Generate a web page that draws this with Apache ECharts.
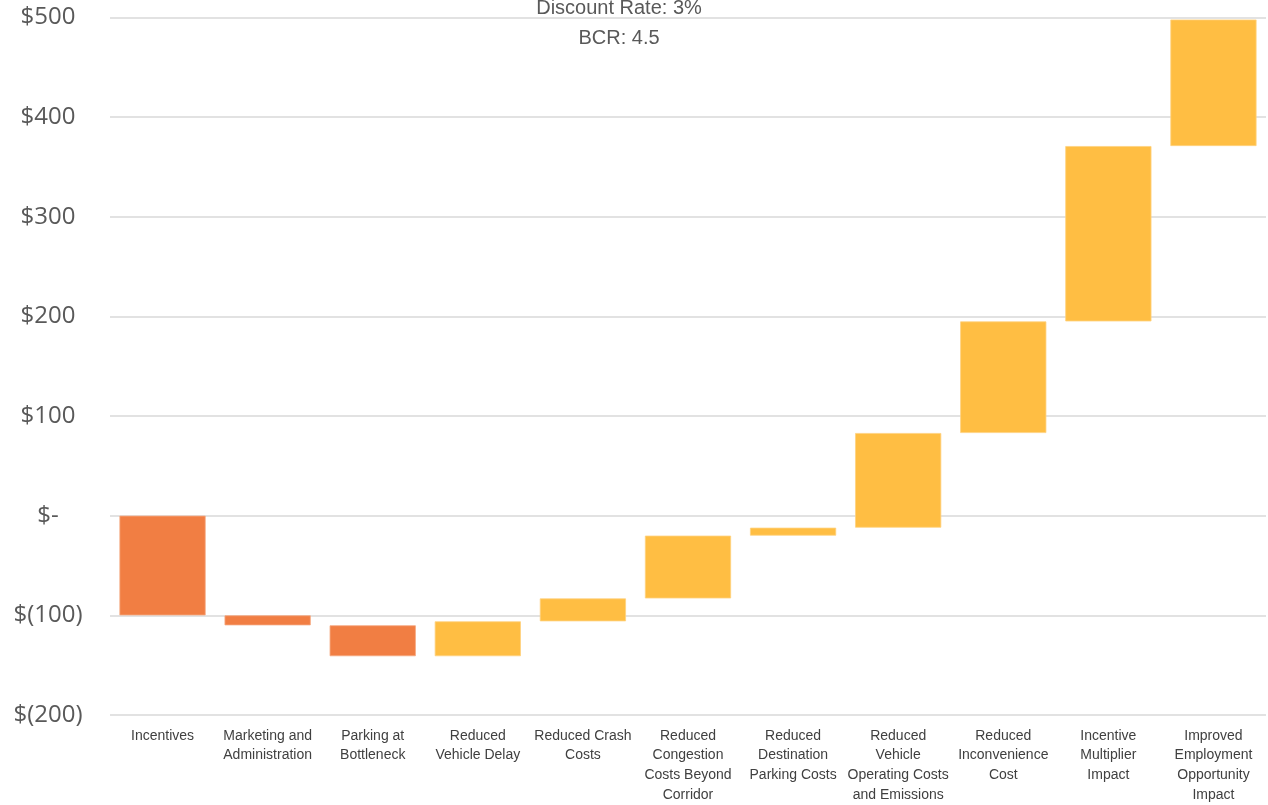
<!DOCTYPE html>
<html>
<head>
<meta charset="utf-8">
<script src="https://cdn.jsdelivr.net/npm/echarts@6/dist/echarts.min.js"></script>
<style>
  html, body { margin: 0; padding: 0; background: #ffffff; }
  #chart { width: 1268px; height: 805px; }
</style>
</head>
<body>
<div id="chart"></div>
<script>
// Benefit-cost waterfall, values in $ (millions)
const categories = [
  'Incentives',
  'Marketing and\nAdministration',
  'Parking at\nBottleneck',
  'Reduced\nVehicle Delay',
  'Reduced Crash\nCosts',
  'Reduced\nCongestion\nCosts Beyond\nCorridor',
  'Reduced\nDestination\nParking Costs',
  'Reduced\nVehicle\nOperating Costs\nand Emissions',
  'Reduced\nInconvenience\nCost',
  'Incentive\nMultiplier\nImpact',
  'Improved\nEmployment\nOpportunity\nImpact'
];
// change contributed by each item (negative = cost, positive = benefit)
const changes = [-100, -10, -31, 35, 23, 63, 8, 95, 112, 176, 127];
const yTicks = { min: -200, max: 500, interval: 100 };
const subtitleLines = ['Discount Rate: 3%', 'BCR: 4.5'];

const COST_COLOR = '#F17E43';
const BENEFIT_COLOR = '#FFBE43';

// running total before each item = invisible base of each floating bar
const bases = [];
let running = 0;
changes.forEach(function (c) { bases.push(running); running += c; });

const chart = echarts.init(document.getElementById('chart'), null, { renderer: 'canvas' });

chart.setOption({
  animation: false,
  backgroundColor: '#ffffff',
  title: {
    text: subtitleLines.join('\n'),
    left: 614,
    top: -12,
    textAlign: 'center',
    textStyle: {
      fontFamily: 'Liberation Sans, Arial, sans-serif',
      fontSize: 20,
      fontWeight: 'normal',
      color: '#595959',
      lineHeight: 30
    }
  },
  grid: { left: 110, right: 2, top: 17.5, bottom: 90, containLabel: false },
  xAxis: {
    type: 'category',
    data: categories,
    axisLine: { show: false },
    axisTick: { show: false },
    axisLabel: {
      interval: 0,
      margin: 11,
      fontFamily: "'Liberation Sans Narrow', 'Liberation Sans', sans-serif",
      fontSize: 14,
      lineHeight: 19.7,
      color: '#404040',
      align: 'center'
    }
  },
  yAxis: {
    type: 'value',
    min: yTicks.min,
    max: yTicks.max,
    interval: yTicks.interval,
    axisLine: { show: false },
    axisTick: { show: false },
    splitLine: { lineStyle: { color: '#d9d9d9', width: 1.5 } },
    axisLabel: {
      align: 'center',
      margin: 62,
      fontFamily: "'Open Sans', sans-serif",
      fontSize: 24,
      color: '#595959',
      formatter: function (v) {
        if (v === 0) return '$-';
        if (v < 0) return '$(' + (-v) + ')';
        return '$' + v;
      }
    }
  },
  series: [
    {
      name: 'base',
      type: 'bar',
      stack: 'waterfall',
      stackStrategy: 'all',
      barWidth: '82%',
      silent: true,
      itemStyle: { color: 'transparent' },
      data: bases
    },
    {
      name: 'change',
      type: 'bar',
      stack: 'waterfall',
      stackStrategy: 'all',
      barWidth: '82%',
      data: changes.map(function (c) {
        return {
          value: c,
          itemStyle: {
            color: c < 0 ? COST_COLOR : BENEFIT_COLOR,
            borderColor: c < 0 ? '#F5A77E' : '#FFD27F',
            borderWidth: 0.8
          }
        };
      })
    }
  ]
});
</script>
</body>
</html>
